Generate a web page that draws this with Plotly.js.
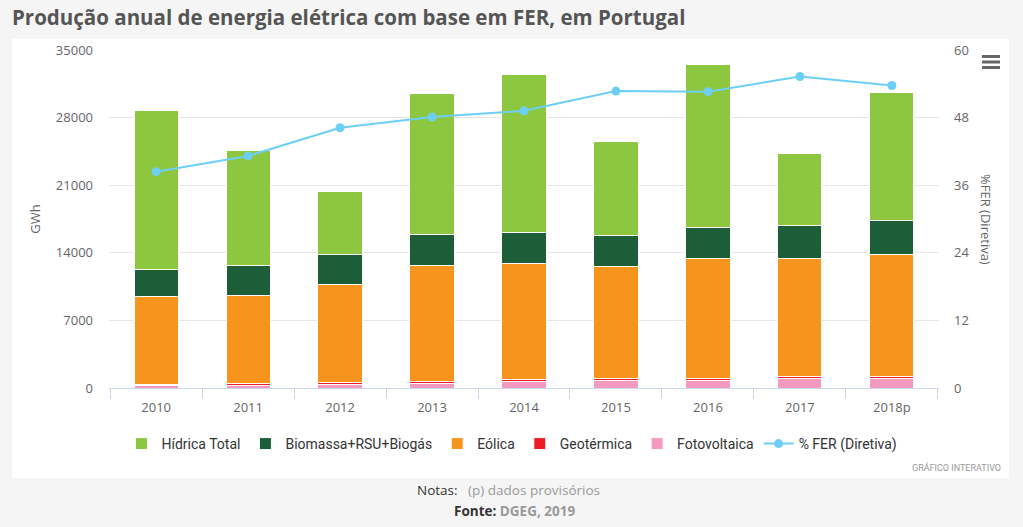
<!DOCTYPE html>
<html>
<head>
<meta charset="utf-8">
<script src="https://cdn.plot.ly/plotly-3.0.1.min.js"></script>
<style>
  html, body { margin: 0; padding: 0; background: #f5f5f5; }
  #chart { width: 1023px; height: 527px; }
</style>
</head>
<body>
<div id="chart"></div>
<script>
const years = ["2010", "2011", "2012", "2013", "2014", "2015", "2016", "2017", "2018p"];
const hidrica = [16430, 11910, 6560, 14640, 16360, 9730, 16780, 7460, 13330];
const biomassa = [2750, 3050, 3100, 3170, 3210, 3170, 3210, 3450, 3490];
const eolica = [9100, 9150, 10200, 12000, 12100, 11600, 12470, 12200, 12600];
const geotermica = [197, 210, 146, 197, 205, 204, 172, 217, 230];
const fotovoltaica = [210, 260, 390, 480, 630, 800, 820, 990, 1000];
const ferPct = [38.4, 41.2, 46.2, 48.1, 49.2, 52.7, 52.6, 55.3, 53.7];

const barLine = { color: "#ffffff", width: 1 };
const traces = [
  { type: "bar", name: "Fotovoltaica", x: years, y: fotovoltaica, legendrank: 5,
    marker: { color: "#f49ac1", line: barLine } },
  { type: "bar", name: "Geotérmica", x: years, y: geotermica, legendrank: 4,
    marker: { color: "#ed1c24", line: barLine } },
  { type: "bar", name: "Eólica", x: years, y: eolica, legendrank: 3,
    marker: { color: "#f7941d", line: barLine } },
  { type: "bar", name: "Biomassa+RSU+Biogás", x: years, y: biomassa, legendrank: 2,
    marker: { color: "#1b5e37", line: barLine } },
  { type: "bar", name: "Hídrica Total", x: years, y: hidrica, legendrank: 1,
    marker: { color: "#8dc63f", line: barLine } },
  { type: "scatter", mode: "lines+markers", name: "% FER (Diretiva)", x: years, y: ferPct,
    yaxis: "y2", legendrank: 6,
    line: { color: "#6dcff6", width: 2 }, marker: { color: "#6dcff6", size: 9 } }
];

const L = 109, R = 939, T = 50, B = 388;
const px = v => (v - L) / (R - L);
const py = v => (B - v) / (B - T);

const layout = {
  width: 1023, height: 527,
  margin: { l: L, r: 1023 - R, t: T, b: 527 - B, pad: 0 },
  paper_bgcolor: "#f5f5f5",
  plot_bgcolor: "#ffffff",
  barmode: "stack",
  bargap: 0.52,
  showlegend: true,
  font: { family: "Open Sans, sans-serif", color: "#666666", size: 13 },
  title: {
    text: "<b>Produção anual de energia elétrica com base em FER, em Portugal</b>",
    font: { family: "Open Sans, sans-serif", size: 20.5, color: "#555555" },
    x: 12 / 1023, xanchor: "left", xref: "container",
    y: 1 - 18 / 527, yanchor: "middle", yref: "container"
  },
  xaxis: {
    type: "category",
    showgrid: false,
    showline: true, linecolor: "#ccd6eb", linewidth: 1,
    ticks: "outside", tickson: "boundaries", ticklen: 10, tickcolor: "#ccd6eb",
    ticklabelstandoff: 7,
    tickfont: { size: 13, color: "#666666" },
    zeroline: false
  },
  yaxis: {
    range: [0, 35000], dtick: 7000, tick0: 0, tickformat: "d",
    showgrid: true, gridcolor: "#e6e6e6", gridwidth: 1,
    zeroline: false, showline: false,
    ticks: "", ticklabelstandoff: 15,
    tickfont: { size: 13, color: "#666666" },
    title: { text: "GWh", font: { size: 13, color: "#666666" }, standoff: 12 }
  },
  yaxis2: {
    overlaying: "y", side: "right",
    range: [0, 60], dtick: 12, tick0: 0, tickformat: "d",
    showgrid: false, zeroline: false, showline: false,
    ticks: "", ticklabelstandoff: 14,
    tickfont: { size: 13, color: "#666666" }
  },
  legend: {
    orientation: "h",
    traceorder: "normal",
    x: px(512), xanchor: "center",
    y: py(444), yanchor: "middle",
    font: { family: "Roboto, sans-serif", size: 14, color: "#333333" },
    bgcolor: "rgba(0,0,0,0)",
    itemwidth: 30,
    tracegroupgap: 0
  },
  shapes: [
    { type: "rect", xref: "paper", yref: "paper", layer: "below",
      x0: px(12), x1: px(1009), y0: py(478), y1: py(39),
      fillcolor: "#ffffff", line: { width: 0 } },
    { type: "line", xref: "paper", yref: "paper", x0: px(982), x1: px(1000), y0: py(56.5), y1: py(56.5),
      line: { color: "#666666", width: 3 } },
    { type: "line", xref: "paper", yref: "paper", x0: px(982), x1: px(1000), y0: py(62), y1: py(62),
      line: { color: "#666666", width: 3 } },
    { type: "line", xref: "paper", yref: "paper", x0: px(982), x1: px(1000), y0: py(67.5), y1: py(67.5),
      line: { color: "#666666", width: 3 } }
  ],
  annotations: [
    { xref: "paper", yref: "paper", x: px(986), y: py(219), xanchor: "center", yanchor: "middle",
      text: "%FER (Diretiva)",
      textangle: 90, showarrow: false, font: { size: 13, color: "#666666" } },
    { xref: "paper", yref: "paper", x: px(1003), y: py(468), xanchor: "right", yanchor: "middle",
      text: "GRÁFICO INTERATIVO", showarrow: false,
      font: { family: "Roboto, sans-serif", size: 9, color: "#999999" } },
    { xref: "paper", yref: "paper", x: px(508), y: py(490), xanchor: "center", yanchor: "middle",
      text: "<span style='color:#333333'>Notas:</span>   (p) dados provisórios", showarrow: false,
      font: { family: "Open Sans, sans-serif", size: 13.5, color: "#999999" } },
    { xref: "paper", yref: "paper", x: px(514), y: py(511), xanchor: "center", yanchor: "middle",
      text: "<b><span style='color:#333333'>Fonte:</span> DGEG, 2019</b>", showarrow: false,
      font: { family: "Open Sans, sans-serif", size: 13.5, color: "#999999" } }
  ]
};

Plotly.newPlot("chart", traces, layout, { displayModeBar: false });
</script>
</body>
</html>
